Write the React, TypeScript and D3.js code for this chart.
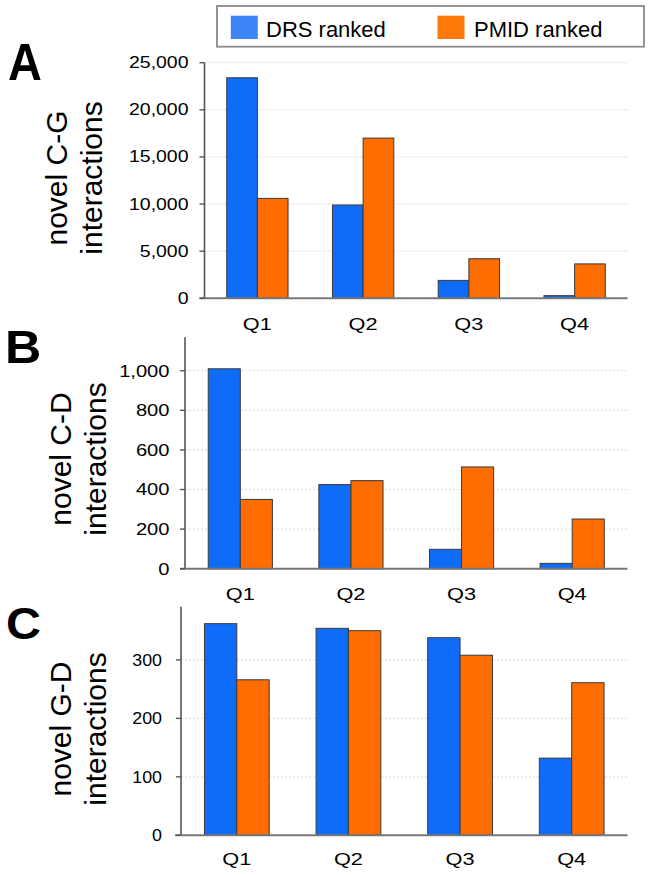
import React from "react";
import * as d3 from "d3";

const quarters = ["Q1", "Q2", "Q3", "Q4"];
const seriesNames = ["DRS ranked", "PMID ranked"];
const drsA = [23400, 9900, 1900, 280];
const pmidA = [10600, 17000, 4200, 3650];
const drsB = [1010, 425, 98, 27];
const pmidB = [350, 445, 514, 251];
const drsC = [362, 354, 338, 132];
const pmidC = [266, 350, 308, 261];
const ticksA = [0, 5000, 10000, 15000, 20000, 25000];
const ticksB = [0, 200, 400, 600, 800, 1000];
const ticksC = [0, 100, 200, 300];
const colors = ["#0f6cf9", "#ff6c00"];
const legendColors = ["#3d85f6", "#ff7a0a"];

const FONT = "'Liberation Sans', Arial, Helvetica, sans-serif";

type Panel = {
  letter: string;
  title1: string;
  title2: string;
  drs: number[];
  pmid: number[];
  ticks: number[];
  max: number;
  axisX: number;
  xStart: number;
  right: number;
  y0: number;
  yTop: number;
  qBase: number;
  t1x: number;
  t2x: number;
  tcy: number;
  gap: number;
  tickSX: number;
  lx: number;
  ly: number;
  lsize: number;
  lsx: number;
};

const panels: Panel[] = [
  {
    letter: "A", title1: "novel C-G", title2: "interactions", drs: drsA, pmid: pmidA, ticks: ticksA,
    max: 25000, axisX: 204.5, xStart: 199.5, right: 627.5, y0: 298.3, yTop: 62.7, qBase: 329.5,
    t1x: 66.5, t2x: 102, tcy: 178, gap: 16, tickSX: 1.18, lx: 8, ly: 80, lsize: 51, lsx: 0.92,
  },
  {
    letter: "B", title1: "novel C-D", title2: "interactions", drs: drsB, pmid: pmidB, ticks: ticksB,
    max: 1169, axisX: 185, xStart: 180, right: 627.5, y0: 568.7, yTop: 337.3, qBase: 599.5,
    t1x: 70.7, t2x: 106, tcy: 459, gap: 15.5, tickSX: 1.22, lx: 5, ly: 363.3, lsize: 46.5, lsx: 1.08,
  },
  {
    letter: "C", title1: "novel G-D", title2: "interactions", drs: drsC, pmid: pmidC, ticks: ticksC,
    max: 391, axisX: 181, xStart: 175, right: 627.5, y0: 835.3, yTop: 606.7, qBase: 864.5,
    t1x: 70.7, t2x: 106, tcy: 729, gap: 19, tickSX: 1.08, lx: 6, ly: 639, lsize: 44, lsx: 1.1,
  },
];

const fmt = d3.format(",");

function PanelView({ p }: { p: Panel }) {
  const x0 = d3.scaleBand<string>().domain(quarters).range([p.axisX, p.right]).paddingInner(0.42).paddingOuter(0.21);
  const x1 = d3.scaleBand<string>().domain(seriesNames).range([0, x0.bandwidth()]);
  const y = d3.scaleLinear().domain([0, p.max]).range([p.y0, p.yTop]);
  const vals = [p.drs, p.pmid];
  return (
    <g>
      <text
        transform={`translate(${p.lx},${p.ly}) scale(${p.lsx},1)`}
        fontFamily={FONT}
        fontWeight="bold"
        fontSize={p.lsize}
        fill="#000"
      >
        {p.letter}
      </text>
      {p.ticks.filter((t) => t > 0).map((t) => (
        <line key={"g" + t} x1={p.axisX} x2={p.right} y1={y(t)} y2={y(t)} stroke="#d8d8d8" strokeWidth={1} strokeDasharray="2,2" />
      ))}
      {quarters.map((q, i) =>
        seriesNames.map((s, j) => {
          const v = vals[j][i];
          const bx = (x0(q) as number) + (x1(s) as number);
          return (
            <rect
              key={q + s}
              x={bx}
              y={y(v)}
              width={x1.bandwidth()}
              height={p.y0 - y(v)}
              fill={colors[j]}
              stroke="#3a3a3a"
              strokeWidth={1}
            />
          );
        })
      )}
      <line x1={p.axisX} x2={p.axisX} y1={p.yTop} y2={p.y0} stroke="#555" strokeWidth={1.6} />
      <line x1={p.xStart} x2={p.right} y1={p.y0} y2={p.y0} stroke="#777" strokeWidth={2} />
      {p.ticks.map((t) => (
        <g key={"t" + t}>
          <line x1={p.axisX - 5} x2={p.axisX} y1={y(t)} y2={y(t)} stroke="#555" strokeWidth={1.4} />
          <text
            transform={`translate(${p.axisX - p.gap},${y(t)}) scale(${p.tickSX},1)`}
            textAnchor="end"
            dominantBaseline="central"
            fontFamily={FONT}
            fontSize={16.5}
            fill="#000"
          >
            {fmt(t)}
          </text>
        </g>
      ))}
      {quarters.map((q) => (
        <text
          key={"q" + q}
          transform={`translate(${(x0(q) as number) + x0.bandwidth() / 2},${p.qBase}) scale(1.28,1)`}
          textAnchor="middle"
          fontFamily={FONT}
          fontSize={17}
          fill="#000"
        >
          {q}
        </text>
      ))}
      <text transform={`translate(${p.t1x},${p.tcy}) rotate(-90)`} textAnchor="middle" fontFamily={FONT} fontSize={30} fill="#000">
        {p.title1}
      </text>
      <text transform={`translate(${p.t2x},${p.tcy}) rotate(-90)`} textAnchor="middle" fontFamily={FONT} fontSize={30} fill="#000">
        {p.title2}
      </text>
    </g>
  );
}

export default function App() {
  const legendX = [230.8, 437.5];
  const legendTextX = [266, 474];
  return (
    <svg width={652} height={875} style={{ position: "absolute", left: 0, top: 0, background: "#fff" }}>
      <rect x={0} y={0} width={652} height={875} fill="#fff" />
      <rect x={217} y={6} width={427} height={40.7} fill="#fff" stroke="#8a8a8a" strokeWidth={1.8} />
      {seriesNames.map((s, i) => (
        <g key={s}>
          <rect x={legendX[i]} y={15.7} width={27} height={23.3} fill={legendColors[i]} />
          <text x={legendTextX[i]} y={36.7} fontFamily={FONT} fontSize={22} fill="#000">
            {s}
          </text>
        </g>
      ))}
      {panels.map((p) => (
        <PanelView key={p.letter} p={p} />
      ))}
    </svg>
  );
}
